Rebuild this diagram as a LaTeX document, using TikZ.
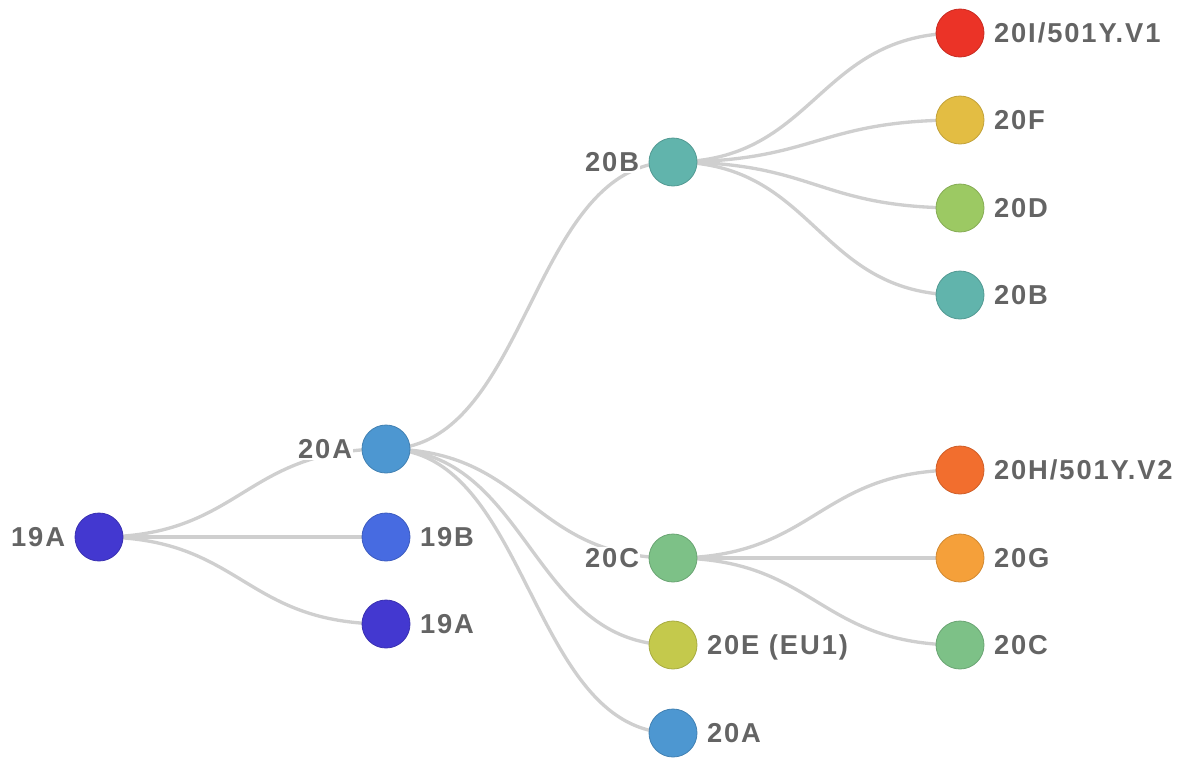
\documentclass[tikz,border=0pt]{standalone}
\usepackage{fontspec}
\setmainfont{Liberation Sans}
\usetikzlibrary{positioning,backgrounds}
\definecolor{linkgray}{HTML}{CFCFCF}
\definecolor{labelgray}{HTML}{646464}
\definecolor{c19A}{HTML}{4338D0}
\definecolor{c19B}{HTML}{476BE1}
\definecolor{c20A}{HTML}{4D97D1}
\definecolor{c20B}{HTML}{61B4AC}
\definecolor{c20C}{HTML}{7DC187}
\definecolor{c20E}{HTML}{C4C94C}
\definecolor{c20I}{HTML}{EB3327}
\definecolor{c20F}{HTML}{E3BD43}
\definecolor{c20D}{HTML}{9CC963}
\definecolor{c20H}{HTML}{F26E2E}
\definecolor{c20G}{HTML}{F5A03A}

\begin{document}
\begin{tikzpicture}[x=0.75pt,y=-0.75pt,
    clade/.style={circle, inner sep=0pt, minimum size=36pt, fill=#1, draw=#1!85!black, line width=0.6pt},
    link/.style={draw=linkgray, line width=2.5pt},
    lbl/.style={font=\bfseries\fontsize{20.5}{20.5}\selectfont\addfontfeature{LetterSpace=7},
                text=labelgray, inner sep=1pt, text height=14.7pt, text depth=0pt}]
    \useasboundingbox (0,0) rectangle (1187,757);

    % Clades
    \node[clade=c19A] (root) at (99,537) {};
    \node[clade=c20A] (a20) at (386,449) {};
    \node[clade=c19B] (b19) at (386,537) {};
    \node[clade=c19A] (a19) at (386,624) {};
    \node[clade=c20B] (b20) at (673,162) {};
    \node[clade=c20C] (c20) at (673,558) {};
    \node[clade=c20E] (e20) at (673,645) {};
    \node[clade=c20A] (a20l) at (673,733) {};
    \node[clade=c20I] (i20) at (960,33) {};
    \node[clade=c20F] (f20) at (960,120) {};
    \node[clade=c20D] (d20) at (960,208) {};
    \node[clade=c20B] (b20l) at (960,295) {};
    \node[clade=c20H] (h20) at (960,470) {};
    \node[clade=c20G] (g20) at (960,558) {};
    \node[clade=c20C] (c20l) at (960,645) {};

    % Links
    \begin{scope}[on background layer]
        \foreach \p/\c in {root/a20, root/b19, root/a19, a20/b20, a20/c20, a20/e20, a20/a20l,
                           b20/i20, b20/f20, b20/d20, b20/b20l, c20/h20, c20/g20, c20/c20l}
            \draw[link] (\p.center) .. controls +(143.5,0) and +(-143.5,0) .. (\c.center);
    \end{scope}

    % Labels of inner clades
    \node[lbl, fill=white, left=6pt of root] (lroot) {19A};
    \node[lbl, fill=white, left=6pt of a20] (la20) {20A};
    \node[lbl, fill=white, left=6pt of b20] (lb20) {20B};
    \node[lbl, fill=white, left=6pt of c20] (lc20) {20C};

    % Labels of leaves
    \node[lbl, right=6pt of b19] (lb19) {19B};
    \node[lbl, right=6pt of a19] (la19) {19A};
    \node[lbl, right=6pt of e20] (le20) {20E (EU1)};
    \node[lbl, right=6pt of a20l] (la20l) {20A};
    \node[lbl, right=6pt of i20] (li20) {20I/501Y.V1};
    \node[lbl, right=6pt of f20] (lf20) {20F};
    \node[lbl, right=6pt of d20] (ld20) {20D};
    \node[lbl, right=6pt of b20l] (lb20l) {20B};
    \node[lbl, right=6pt of h20] (lh20) {20H/501Y.V2};
    \node[lbl, right=6pt of g20] (lg20) {20G};
    \node[lbl, right=6pt of c20l] (lc20l) {20C};
\end{tikzpicture}
\end{document}
